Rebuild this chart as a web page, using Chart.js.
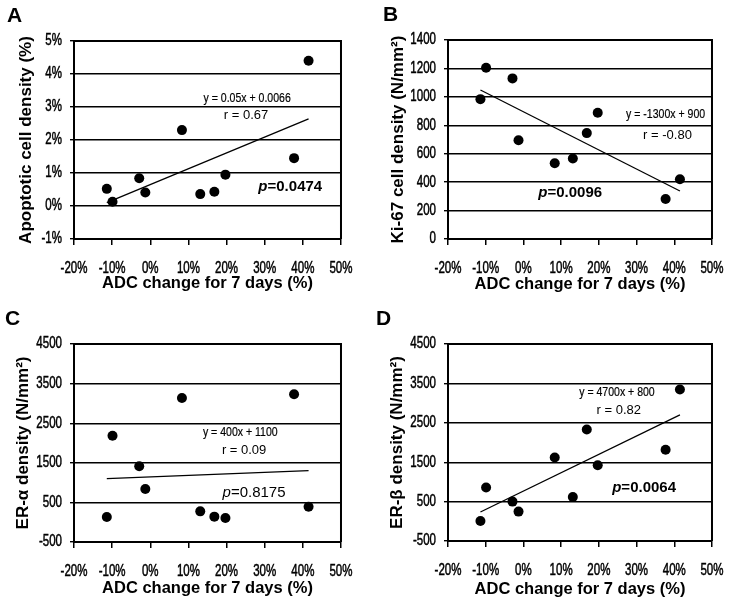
<!DOCTYPE html>
<html><head><meta charset="utf-8">
<script src="https://cdn.jsdelivr.net/npm/chart.js@4"></script>
<style>
html,body{margin:0;padding:0;background:#fff;}
#wrap{display:grid;grid-template-columns:371px 371px;grid-template-rows:300px 300px;width:742px;height:600px;}
.cell{width:371px;height:300px;}
canvas{display:block;}
</style></head><body>
<div id="wrap">
<div class="cell"><canvas id="cA" width="371" height="300"></canvas></div>
<div class="cell"><canvas id="cB" width="371" height="300"></canvas></div>
<div class="cell"><canvas id="cC" width="371" height="300"></canvas></div>
<div class="cell"><canvas id="cD" width="371" height="300"></canvas></div>
</div>
<script>
// ---- data ----
const adcChange        = [-11.4, -9.9, -2.9, -1.3, 8.3, 13.1, 16.8, 19.7, 37.7, 41.5];
const apoptoticDensity = [0.52, 0.13, 0.84, 0.41, 2.30, 0.36, 0.43, 0.95, 1.45, 4.40];
const ki67Density      = [984, 1205, 1130, 695, 533, 566, 745, 888, 282, 420];
const erAlphaDensity   = [131, 2185, 1411, 838, 3136, 274, 140, 106, 3229, 392];
const erBetaDensity    = [8, 856, 500, 246, 1619, 619, 2331, 1424, 1814, 3347];
const fitX = [-11.4, 41.5];
const fitA = [0.10, 2.64];
const fitB = [1048, 338];
const fitC = [1099, 1301];
const fitD = [237, 2703];
const xTickValues = [-20, -10, 0, 10, 20, 30, 40, 50];
const xTickLabels = ['-20%', '-10%', '0%', '10%', '20%', '30%', '40%', '50%'];
const yTicksA = [-1, 0, 1, 2, 3, 4, 5];
const yLabelsA = ['-1%', '0%', '1%', '2%', '3%', '4%', '5%'];
const yTicksB = [0, 200, 400, 600, 800, 1000, 1200, 1400];
const yTicksCD = [-500, 500, 1500, 2500, 3500, 4500];
const xAxisTitle = 'ADC change for 7 days (%)';

const SANS = '"Liberation Sans", Arial, sans-serif';
// condensed look: marker family names select a horizontal squeeze when the text is drawn
const NARROW_TICK = 'CondensedTick, ' + SANS;
const NARROW_EQ = 'CondensedEq, ' + SANS;
const SQUEEZE = { CondensedTick: 0.72, CondensedEq: 0.78 };
(function () {
  const proto = CanvasRenderingContext2D.prototype;
  function wrap(orig) {
    return function (text, x, y, maxWidth) {
      const f = this.font;
      for (const k in SQUEEZE) {
        if (f.indexOf(k) >= 0) {
          const s = SQUEEZE[k];
          this.save();
          this.translate(x, y);
          this.scale(s, 1);
          if (maxWidth !== undefined) orig.call(this, text, 0, 0, maxWidth / s);
          else orig.call(this, text, 0, 0);
          this.restore();
          return;
        }
      }
      if (maxWidth !== undefined) return orig.call(this, text, x, y, maxWidth);
      return orig.call(this, text, x, y);
    };
  }
  proto.fillText = wrap(proto.fillText);
  proto.strokeText = wrap(proto.strokeText);
})();

const panels = [
  { id: 'cA', letter: 'A', yTitle: 'Apoptotic cell density (%)', ys: apoptoticDensity, fit: fitA,
    yTicks: yTicksA, yLabels: yLabelsA,
    geom: { left: 74, right: 350, top: 41, bottom: 239, yTitleCX: 26, xTitleCY: 283, letterX: 7, letterY: 22 },
    notes: [
      { kind: 'eq', text: 'y = 0.05x + 0.0066', x: 25.4, y: 3.27 },
      { kind: 'r', text: 'r = 0.67', x: 25.1, y: 2.73 },
      { kind: 'p', text: '=0.0474', bold: true, x: 36.7, y: 0.58 } ] },
  { id: 'cB', letter: 'B', yTitle: 'Ki-67 cell density (N/mm\u00B2)', ys: ki67Density, fit: fitB,
    yTicks: yTicksB, yLabels: yTicksB.map(String),
    geom: { left: 77, right: 353, top: 40, bottom: 239, yTitleCX: 27, xTitleCY: 284, letterX: 12, letterY: 21 },
    notes: [
      { kind: 'eq', text: 'y = -1300x + 900', x: 37.7, y: 879 },
      { kind: 'r', text: 'r = -0.80', x: 38.2, y: 731 },
      { kind: 'p', text: '=0.0096', bold: true, x: 12.4, y: 322 } ] },
  { id: 'cC', letter: 'C', yTitle: 'ER-\u03B1 density (N/mm\u00B2)', ys: erAlphaDensity, fit: fitC,
    yTicks: yTicksCD, yLabels: yTicksCD.map(String),
    geom: { left: 74, right: 350, top: 44, bottom: 242, yTitleCX: 23, xTitleCY: 288, letterX: 5, letterY: 25 },
    notes: [
      { kind: 'eq', text: 'y = 400x + 1100', x: 23.6, y: 2260 },
      { kind: 'r', text: 'r = 0.09', x: 24.6, y: 1806 },
      { kind: 'p', text: '=0.8175', bold: false, x: 27.2, y: 745 } ] },
  { id: 'cD', letter: 'D', yTitle: 'ER-\u03B2 density (N/mm\u00B2)', ys: erBetaDensity, fit: fitD,
    yTicks: yTicksCD, yLabels: yTicksCD.map(String),
    geom: { left: 77, right: 353, top: 44, bottom: 241, yTitleCX: 26, xTitleCY: 289, letterX: 5, letterY: 25 },
    notes: [
      { kind: 'eq', text: 'y = 4700x + 800', x: 24.8, y: 3262 },
      { kind: 'r', text: 'r = 0.82', x: 25.3, y: 2804 },
      { kind: 'p', text: '=0.0064', bold: true, x: 32.0, y: 846 } ] }
];

const decorPlugin = {
  id: 'decor',
  afterDraw(chart) {
    const p = chart.options.plugins.decor;
    const ctx = chart.ctx, a = chart.chartArea;
    const xs = chart.scales.x, ys = chart.scales.y;
    ctx.save();
    // frame top & right
    ctx.strokeStyle = '#000';
    ctx.lineWidth = 2;
    ctx.beginPath();
    ctx.moveTo(a.left, a.top);
    ctx.lineTo(a.right, a.top);
    ctx.lineTo(a.right, a.bottom);
    ctx.stroke();
    // panel letter
    ctx.fillStyle = '#000';
    ctx.font = 'bold 21px ' + SANS;
    ctx.textAlign = 'left';
    ctx.textBaseline = 'alphabetic';
    ctx.fillText(p.letter, p.letterX, p.letterY);
    // notes
    ctx.textBaseline = 'middle';
    p.notes.forEach(n => {
      const px = xs.getPixelForValue(n.x), py = ys.getPixelForValue(n.y);
      if (n.kind === 'eq') {
        ctx.font = '13.5px ' + NARROW_EQ;
        ctx.textAlign = 'center';
        ctx.lineWidth = 0.2;
        ctx.strokeText(n.text, px, py);
        ctx.fillText(n.text, px, py);
      } else if (n.kind === 'r') {
        ctx.font = '13px ' + SANS;
        ctx.textAlign = 'center';
        ctx.fillText(n.text, px, py);
      } else {
        const f1 = (n.bold ? 'italic bold 15px ' : 'italic 15px ') + SANS;
        const f2 = (n.bold ? 'bold 15px ' : '15px ') + SANS;
        ctx.font = f1; const w1 = ctx.measureText('p').width;
        ctx.font = f2; const w2 = ctx.measureText(n.text).width;
        const x0 = px - (w1 + w2) / 2;
        ctx.textAlign = 'left';
        ctx.font = f1; ctx.fillText('p', x0, py);
        ctx.font = f2; ctx.fillText(n.text, x0 + w1, py);
      }
    });
    ctx.restore();
  }
};

panels.forEach(P => {
  const g = P.geom;
  const pts = adcChange.map((x, i) => ({ x: x, y: P.ys[i] }));
  const line = fitX.map((x, i) => ({ x: x, y: P.fit[i] }));
  new Chart(document.getElementById(P.id), {
    type: 'scatter',
    data: {
      datasets: [
        { data: pts, backgroundColor: '#000', borderWidth: 0, pointRadius: 5, pointHoverRadius: 5, order: 1 },
        { type: 'line', data: line, borderColor: '#000', borderWidth: 1.3, pointRadius: 0, fill: false, showLine: true, order: 2 }
      ]
    },
    options: {
      responsive: false,
      animation: false,
      events: [],
      layout: { padding: { top: g.top, right: 371 - g.right, left: 0, bottom: 0 } },
      plugins: {
        legend: { display: false },
        tooltip: { enabled: false },
        decor: { letter: P.letter, letterX: g.letterX, letterY: g.letterY, notes: P.notes }
      },
      scales: {
        x: {
          type: 'linear', min: -20, max: 50,
          afterFit: s => { s.height = 300 - g.bottom; },
          afterBuildTicks: s => { s.ticks = xTickValues.map(v => ({ value: v })); },
          ticks: { callback: (v) => xTickLabels[xTickValues.indexOf(v)], color: '#000', padding: 14, maxRotation: 0, autoSkip: false,
                   textStrokeColor: '#000', textStrokeWidth: 0.5,
                   font: { family: NARROW_TICK, size: 16 } },
          grid: { drawOnChartArea: false, drawTicks: true, tickLength: 6, color: '#000', lineWidth: 1.5 },
          border: { color: '#000', width: 2 },
          title: { display: true, text: xAxisTitle, color: '#000', font: { family: SANS, size: 16.5, weight: 'bold' },
                   padding: { top: 0, bottom: (300 - g.xTitleCY) - 9.9 } }
        },
        y: {
          type: 'linear', min: P.yTicks[0], max: P.yTicks[P.yTicks.length - 1],
          afterFit: s => { s.width = g.left; },
          afterBuildTicks: s => { s.ticks = P.yTicks.map(v => ({ value: v })); },
          ticks: { callback: (v) => P.yLabels[P.yTicks.indexOf(v)], color: '#000', padding: 8, autoSkip: false,
                   textStrokeColor: '#000', textStrokeWidth: 0.5,
                   font: { family: NARROW_TICK, size: 16 } },
          grid: { drawTicks: true, tickLength: 4, color: '#000', lineWidth: 1.4 },
          border: { color: '#000', width: 2 },
          title: { display: true, text: P.yTitle, color: '#000', font: { family: SANS, size: 17, weight: 'bold' },
                   padding: { top: g.yTitleCX - 10.2, bottom: 0 } }
        }
      }
    },
    plugins: [decorPlugin]
  });
});
</script>
</body></html>
